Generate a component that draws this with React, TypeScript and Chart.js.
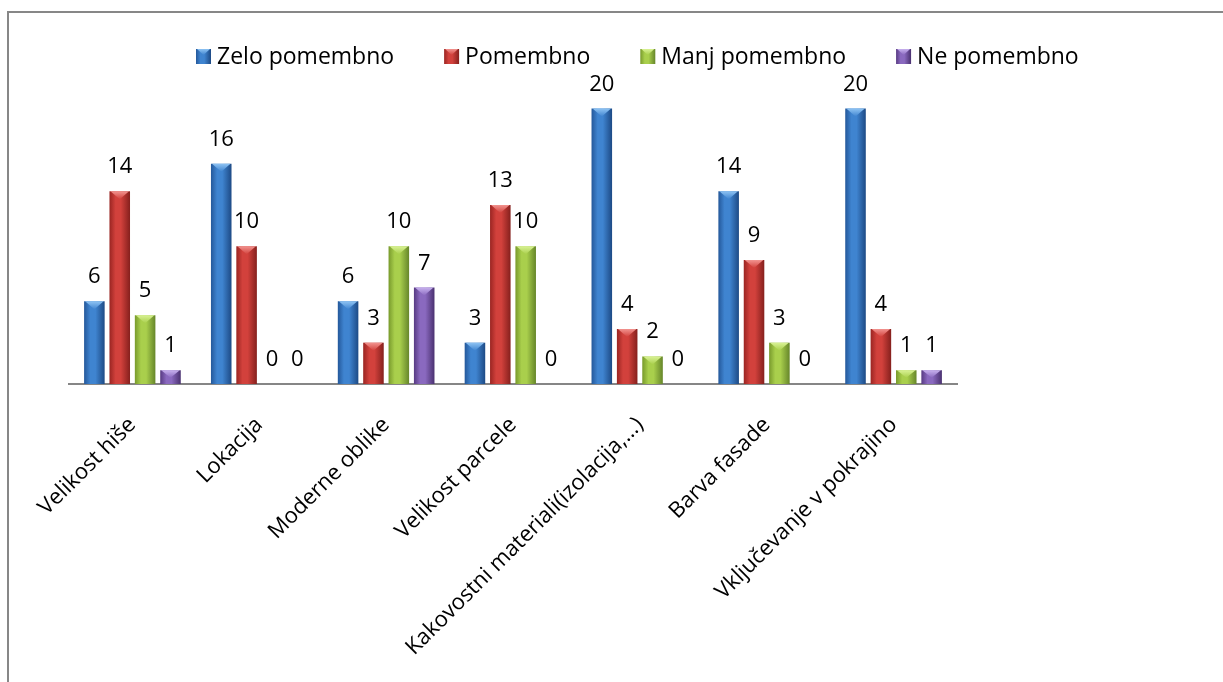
import { useEffect, useRef } from 'react';
import { Chart, registerables } from 'chart.js';

Chart.register(...registerables);

// Survey answers per criterion
const categories = [
  'Velikost hiše',
  'Lokacija',
  'Moderne oblike',
  'Velikost parcele',
  'Kakovostni materiali(izolacija,...)',
  'Barva fasade',
  'Vključevanje v pokrajino',
];
const seriesNames = ['Zelo pomembno', 'Pomembno', 'Manj pomembno', 'Ne pomembno'];
const zeloPomembno = [6, 16, 6, 3, 20, 14, 20];
const pomembno = [14, 10, 3, 13, 4, 9, 4];
const manjPomembno = [5, 0, 10, 10, 2, 3, 1];
const nePomembno = [1, 0, 7, 0, 0, 0, 1];
const seriesValues = [zeloPomembno, pomembno, manjPomembno, nePomembno];
const yMax = 22;

const FONT = '"Open Sans", sans-serif';
const CAT_PCT = 0.8;
const BAR_PCT = 0.81;

type Palette = { edge: string; mid: string; dark: string; light: string };
const palettes: Palette[] = [
  { edge: '#24589a', mid: '#3f84d0', dark: '#1d4a85', light: '#8ec3f3' },
  { edge: '#9a2522', mid: '#d2413c', dark: '#85201d', light: '#f29490' },
  { edge: '#789a2c', mid: '#a9cf4c', dark: '#66862a', light: '#d9f295' },
  { edge: '#573a82', mid: '#8a69bf', dark: '#4a3170', light: '#c7b1ee' },
];

function sideGradient(c: CanvasRenderingContext2D, left: number, right: number, p: Palette) {
  const g = c.createLinearGradient(left, 0, right, 0);
  g.addColorStop(0, p.edge);
  g.addColorStop(0.3, p.mid);
  g.addColorStop(0.55, p.mid);
  g.addColorStop(1, p.dark);
  return g;
}

// Horizontal shading of each bar, computed from the category scale
function barFill(ctx: any) {
  const p = palettes[ctx.datasetIndex];
  const chart = ctx.chart;
  const xs = chart.scales?.x;
  if (!chart.chartArea || !xs || ctx.type !== 'data') return p.mid;
  const catW = xs.width / categories.length;
  const pitch = (catW * CAT_PCT) / seriesNames.length;
  const w = pitch * BAR_PCT;
  const cx = xs.getPixelForValue(ctx.dataIndex) + (ctx.datasetIndex - (seriesNames.length - 1) / 2) * pitch;
  return sideGradient(chart.ctx, cx - w / 2, cx + w / 2, p);
}

function drawBevel(c: CanvasRenderingContext2D, left: number, right: number, top: number, h: number, p: Palette) {
  const cx = (left + right) / 2;
  c.save();
  c.beginPath();
  c.moveTo(left + 1, top);
  c.lineTo(right - 1, top);
  c.lineTo(cx, top + h);
  c.closePath();
  const g = c.createLinearGradient(0, top, 0, top + h);
  g.addColorStop(0, p.light);
  g.addColorStop(1, p.mid);
  c.fillStyle = g;
  c.fill();
  c.restore();
}

// Top bevel and value label on every bar
const barDecor = {
  id: 'barDecor',
  afterDatasetsDraw(chart: any) {
    const c: CanvasRenderingContext2D = chart.ctx;
    chart.data.datasets.forEach((ds: any, di: number) => {
      const meta = chart.getDatasetMeta(di);
      const p = palettes[di];
      meta.data.forEach((el: any, i: number) => {
        const { x, y, base, width } = el.getProps(['x', 'y', 'base', 'width'], true);
        const v = ds.data[i];
        if (v > 0) {
          const h = Math.min(8, (base - y) * 0.55);
          drawBevel(c, x - width / 2, x + width / 2, y, h, p);
        }
        c.save();
        c.font = `22px ${FONT}`;
        c.fillStyle = '#000';
        c.textAlign = 'center';
        c.textBaseline = 'alphabetic';
        c.fillText(String(v), x, Math.min(y, base) - 18);
        c.restore();
      });
    });
  },
};

// Legend row across the top
const topLegend = {
  id: 'topLegend',
  afterDraw(chart: any) {
    const c: CanvasRenderingContext2D = chart.ctx;
    c.save();
    c.font = `23px ${FONT}`;
    c.textBaseline = 'alphabetic';
    c.textAlign = 'left';
    let x = 196;
    const box = 15;
    const baseline = 64;
    seriesNames.forEach((name, i) => {
      const p = palettes[i];
      const top = 49;
      c.fillStyle = sideGradient(c, x, x + box, p);
      c.fillRect(x, top, box, box);
      drawBevel(c, x, x + box, top, 6, p);
      c.fillStyle = '#000';
      c.fillText(name, x + box + 6, baseline);
      x += box + 6 + c.measureText(name).width + 50;
    });
    c.restore();
  },
};

export default function App() {
  const ref = useRef<HTMLCanvasElement | null>(null);

  useEffect(() => {
    if (!ref.current) return;
    const chart = new Chart(ref.current, {
      type: 'bar',
      data: {
        labels: categories,
        datasets: seriesNames.map((name, i) => ({
          label: name,
          data: seriesValues[i],
          backgroundColor: barFill,
          borderWidth: 0,
          categoryPercentage: CAT_PCT,
          barPercentage: BAR_PCT,
        })),
      },
      options: {
        animation: false,
        responsive: false,
        maintainAspectRatio: false,
        devicePixelRatio: 1,
        layout: { padding: { left: 69, right: 266, top: 81, bottom: 0 } },
        plugins: {
          legend: { display: false },
          tooltip: { enabled: false },
        },
        scales: {
          x: {
            grid: { display: false, drawTicks: false },
            border: { display: true, color: '#868686', width: 2 },
            ticks: {
              color: '#000',
              font: { family: FONT, size: 22 },
              maxRotation: 45,
              minRotation: 45,
              padding: 28,
              autoSkip: false,
            },
            afterFit: (s: any) => {
              s.height = 682 - 384;
              s.paddingLeft = 0;
              s.paddingRight = 0;
            },
          },
          y: {
            display: false,
            min: 0,
            max: yMax,
          },
        },
      },
      plugins: [barDecor, topLegend],
    });
    return () => chart.destroy();
  }, []);

  return (
    <div style={{ position: 'fixed', left: 0, top: 0, width: 1223, height: 682, background: '#fff', overflow: 'hidden' }}>
      <div
        style={{
          position: 'absolute',
          left: 7,
          top: 11,
          width: 1400,
          height: 900,
          border: '2px solid #878787',
          boxSizing: 'border-box',
        }}
      />
      <canvas ref={ref} width={1223} height={682} style={{ position: 'absolute', left: 0, top: 0, display: 'block' }} />
    </div>
  );
}
